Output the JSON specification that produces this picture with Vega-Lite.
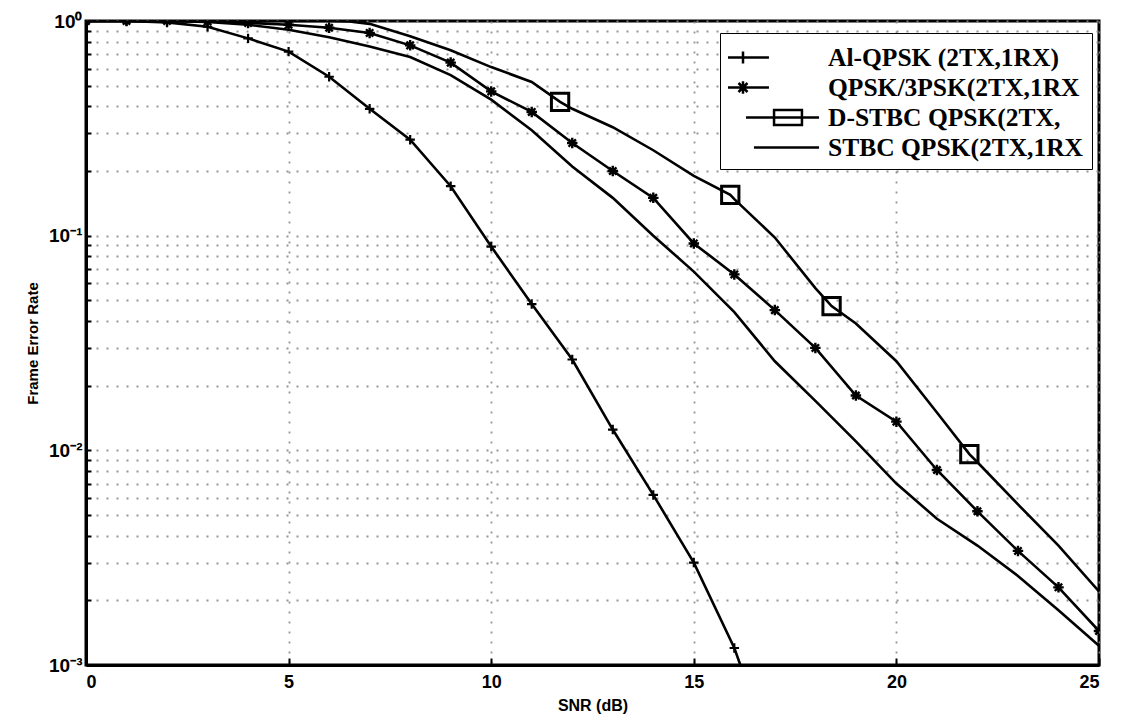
{
  "$schema": "https://vega.github.io/schema/vega-lite/v6.json",
  "width": 1013,
  "height": 644,
  "autosize": {"type": "none"},
  "padding": {"left": 86, "top": 21, "right": 23, "bottom": 54},
  "background": "white",
  "config": {
    "view": {"stroke": "black", "strokeWidth": 3},
    "axis": {
      "domainColor": "black", "domainWidth": 3,
      "tickColor": "black", "tickWidth": 2,
      "labelFont": "Liberation Sans", "labelFontWeight": "bold", "labelFontSize": 18, "labelColor": "black",
      "titleFont": "Liberation Sans", "titleFontWeight": "bold", "titleFontSize": 16, "titleColor": "black",
      "gridColor": "#8a8a8a", "gridDash": [2, 8], "gridWidth": 1.8, "gridOpacity": 0.9
    }
  },
  "datasets": {
    "curves": [
      {"series": "Al-QPSK (2TX,1RX)", "snr": 0, "fer": 1},
      {"series": "Al-QPSK (2TX,1RX)", "snr": 1, "fer": 1},
      {"series": "Al-QPSK (2TX,1RX)", "snr": 2, "fer": 0.985},
      {"series": "Al-QPSK (2TX,1RX)", "snr": 3, "fer": 0.94},
      {"series": "Al-QPSK (2TX,1RX)", "snr": 4, "fer": 0.83},
      {"series": "Al-QPSK (2TX,1RX)", "snr": 5, "fer": 0.72},
      {"series": "Al-QPSK (2TX,1RX)", "snr": 6, "fer": 0.55},
      {"series": "Al-QPSK (2TX,1RX)", "snr": 7, "fer": 0.39},
      {"series": "Al-QPSK (2TX,1RX)", "snr": 8, "fer": 0.28},
      {"series": "Al-QPSK (2TX,1RX)", "snr": 9, "fer": 0.17},
      {"series": "Al-QPSK (2TX,1RX)", "snr": 10, "fer": 0.089},
      {"series": "Al-QPSK (2TX,1RX)", "snr": 11, "fer": 0.048},
      {"series": "Al-QPSK (2TX,1RX)", "snr": 12, "fer": 0.0265},
      {"series": "Al-QPSK (2TX,1RX)", "snr": 13, "fer": 0.0125},
      {"series": "Al-QPSK (2TX,1RX)", "snr": 14, "fer": 0.0062},
      {"series": "Al-QPSK (2TX,1RX)", "snr": 15, "fer": 0.003},
      {"series": "Al-QPSK (2TX,1RX)", "snr": 16, "fer": 0.0012},
      {"series": "Al-QPSK (2TX,1RX)", "snr": 16.5, "fer": 0.00065},
      {"series": "QPSK/3PSK(2TX,1RX", "snr": 0, "fer": 1},
      {"series": "QPSK/3PSK(2TX,1RX", "snr": 1, "fer": 1},
      {"series": "QPSK/3PSK(2TX,1RX", "snr": 2, "fer": 1},
      {"series": "QPSK/3PSK(2TX,1RX", "snr": 3, "fer": 0.995},
      {"series": "QPSK/3PSK(2TX,1RX", "snr": 4, "fer": 0.98},
      {"series": "QPSK/3PSK(2TX,1RX", "snr": 5, "fer": 0.96},
      {"series": "QPSK/3PSK(2TX,1RX", "snr": 6, "fer": 0.93},
      {"series": "QPSK/3PSK(2TX,1RX", "snr": 7, "fer": 0.88},
      {"series": "QPSK/3PSK(2TX,1RX", "snr": 8, "fer": 0.77},
      {"series": "QPSK/3PSK(2TX,1RX", "snr": 9, "fer": 0.64},
      {"series": "QPSK/3PSK(2TX,1RX", "snr": 10, "fer": 0.47},
      {"series": "QPSK/3PSK(2TX,1RX", "snr": 11, "fer": 0.377},
      {"series": "QPSK/3PSK(2TX,1RX", "snr": 12, "fer": 0.27},
      {"series": "QPSK/3PSK(2TX,1RX", "snr": 13, "fer": 0.2},
      {"series": "QPSK/3PSK(2TX,1RX", "snr": 14, "fer": 0.15},
      {"series": "QPSK/3PSK(2TX,1RX", "snr": 15, "fer": 0.092},
      {"series": "QPSK/3PSK(2TX,1RX", "snr": 16, "fer": 0.066},
      {"series": "QPSK/3PSK(2TX,1RX", "snr": 17, "fer": 0.045},
      {"series": "QPSK/3PSK(2TX,1RX", "snr": 18, "fer": 0.03},
      {"series": "QPSK/3PSK(2TX,1RX", "snr": 19, "fer": 0.018},
      {"series": "QPSK/3PSK(2TX,1RX", "snr": 20, "fer": 0.0136},
      {"series": "QPSK/3PSK(2TX,1RX", "snr": 21, "fer": 0.0081},
      {"series": "QPSK/3PSK(2TX,1RX", "snr": 22, "fer": 0.0052},
      {"series": "QPSK/3PSK(2TX,1RX", "snr": 23, "fer": 0.0034},
      {"series": "QPSK/3PSK(2TX,1RX", "snr": 24, "fer": 0.0023},
      {"series": "QPSK/3PSK(2TX,1RX", "snr": 25, "fer": 0.00144},
      {"series": "D-STBC QPSK(2TX,", "snr": 0, "fer": 1},
      {"series": "D-STBC QPSK(2TX,", "snr": 6, "fer": 1},
      {"series": "D-STBC QPSK(2TX,", "snr": 6.5, "fer": 0.995},
      {"series": "D-STBC QPSK(2TX,", "snr": 7, "fer": 0.97},
      {"series": "D-STBC QPSK(2TX,", "snr": 8, "fer": 0.85},
      {"series": "D-STBC QPSK(2TX,", "snr": 9, "fer": 0.73},
      {"series": "D-STBC QPSK(2TX,", "snr": 10, "fer": 0.61},
      {"series": "D-STBC QPSK(2TX,", "snr": 11, "fer": 0.52},
      {"series": "D-STBC QPSK(2TX,", "snr": 11.7, "fer": 0.42},
      {"series": "D-STBC QPSK(2TX,", "snr": 12, "fer": 0.39},
      {"series": "D-STBC QPSK(2TX,", "snr": 13, "fer": 0.32},
      {"series": "D-STBC QPSK(2TX,", "snr": 14, "fer": 0.25},
      {"series": "D-STBC QPSK(2TX,", "snr": 15, "fer": 0.19},
      {"series": "D-STBC QPSK(2TX,", "snr": 15.9, "fer": 0.155},
      {"series": "D-STBC QPSK(2TX,", "snr": 16, "fer": 0.148},
      {"series": "D-STBC QPSK(2TX,", "snr": 17, "fer": 0.098},
      {"series": "D-STBC QPSK(2TX,", "snr": 18, "fer": 0.057},
      {"series": "D-STBC QPSK(2TX,", "snr": 18.4, "fer": 0.047},
      {"series": "D-STBC QPSK(2TX,", "snr": 19, "fer": 0.039},
      {"series": "D-STBC QPSK(2TX,", "snr": 20, "fer": 0.026},
      {"series": "D-STBC QPSK(2TX,", "snr": 21, "fer": 0.015},
      {"series": "D-STBC QPSK(2TX,", "snr": 21.8, "fer": 0.0096},
      {"series": "D-STBC QPSK(2TX,", "snr": 22, "fer": 0.0088},
      {"series": "D-STBC QPSK(2TX,", "snr": 23, "fer": 0.0056},
      {"series": "D-STBC QPSK(2TX,", "snr": 24, "fer": 0.0036},
      {"series": "D-STBC QPSK(2TX,", "snr": 25, "fer": 0.0022},
      {"series": "STBC QPSK(2TX,1RX", "snr": 0, "fer": 1},
      {"series": "STBC QPSK(2TX,1RX", "snr": 2, "fer": 1},
      {"series": "STBC QPSK(2TX,1RX", "snr": 3, "fer": 0.99},
      {"series": "STBC QPSK(2TX,1RX", "snr": 4, "fer": 0.96},
      {"series": "STBC QPSK(2TX,1RX", "snr": 5, "fer": 0.91},
      {"series": "STBC QPSK(2TX,1RX", "snr": 6, "fer": 0.84},
      {"series": "STBC QPSK(2TX,1RX", "snr": 7, "fer": 0.76},
      {"series": "STBC QPSK(2TX,1RX", "snr": 8, "fer": 0.68},
      {"series": "STBC QPSK(2TX,1RX", "snr": 9, "fer": 0.56},
      {"series": "STBC QPSK(2TX,1RX", "snr": 10, "fer": 0.43},
      {"series": "STBC QPSK(2TX,1RX", "snr": 11, "fer": 0.31},
      {"series": "STBC QPSK(2TX,1RX", "snr": 12, "fer": 0.21},
      {"series": "STBC QPSK(2TX,1RX", "snr": 13, "fer": 0.15},
      {"series": "STBC QPSK(2TX,1RX", "snr": 14, "fer": 0.1},
      {"series": "STBC QPSK(2TX,1RX", "snr": 15, "fer": 0.068},
      {"series": "STBC QPSK(2TX,1RX", "snr": 16, "fer": 0.044},
      {"series": "STBC QPSK(2TX,1RX", "snr": 17, "fer": 0.026},
      {"series": "STBC QPSK(2TX,1RX", "snr": 18, "fer": 0.017},
      {"series": "STBC QPSK(2TX,1RX", "snr": 19, "fer": 0.011},
      {"series": "STBC QPSK(2TX,1RX", "snr": 20, "fer": 0.007},
      {"series": "STBC QPSK(2TX,1RX", "snr": 21, "fer": 0.0048},
      {"series": "STBC QPSK(2TX,1RX", "snr": 22, "fer": 0.0036},
      {"series": "STBC QPSK(2TX,1RX", "snr": 23, "fer": 0.0026},
      {"series": "STBC QPSK(2TX,1RX", "snr": 24, "fer": 0.0018},
      {"series": "STBC QPSK(2TX,1RX", "snr": 25, "fer": 0.00123}
    ],
    "squares": [
      {"series": "D-STBC QPSK(2TX,", "snr": 11.7, "fer": 0.42},
      {"series": "D-STBC QPSK(2TX,", "snr": 15.9, "fer": 0.155},
      {"series": "D-STBC QPSK(2TX,", "snr": 18.4, "fer": 0.047},
      {"series": "D-STBC QPSK(2TX,", "snr": 21.8, "fer": 0.0096}
    ]
  },
  "encoding": {
    "x": {
      "field": "snr", "type": "quantitative",
      "scale": {"domain": [0, 25], "nice": false, "zero": false},
      "axis": {"values": [0, 5, 10, 15, 20, 25], "title": "SNR (dB)", "grid": true, "tickSize": -7, "labelPadding": 15, "titlePadding": 6}
    },
    "y": {
      "field": "fer", "type": "quantitative",
      "scale": {"type": "log", "domain": [0.001, 1], "nice": false},
      "axis": {
        "values": [0.001, 0.002, 0.003, 0.004, 0.005, 0.006, 0.007, 0.008, 0.009, 0.01, 0.02, 0.03, 0.04, 0.05, 0.06, 0.07, 0.08, 0.09, 0.1, 0.2, 0.3, 0.4, 0.5, 0.6, 0.7, 0.8, 0.9, 1],
        "labelExpr": "datum.value == 1 ? '10⁰' : datum.value == 0.1 ? '10⁻¹' : datum.value == 0.01 ? '10⁻²' : datum.value == 0.001 ? '10⁻³' : ''",
        "labelFontSize": 19,
        "title": "Frame Error Rate", "titleFontSize": 15, "grid": true, "tickSize": -5, "labelPadding": 9, "titlePadding": 8
      }
    }
  },
  "layer": [
    {
      "data": {"name": "curves"},
      "mark": {"type": "line", "color": "black", "strokeWidth": 2.6, "clip": true},
      "encoding": {"detail": {"field": "series", "type": "nominal"}}
    },
    {
      "data": {"name": "curves"},
      "transform": [{"filter": "datum.series == 'Al-QPSK (2TX,1RX)'"}],
      "mark": {"type": "point", "shape": "M-1,0H1M0,-1V1", "size": 90, "filled": false, "color": "black", "strokeWidth": 2.2, "opacity": 1, "clip": true}
    },
    {
      "data": {"name": "curves"},
      "transform": [{"filter": "datum.series == 'QPSK/3PSK(2TX,1RX'"}],
      "mark": {"type": "point", "shape": "M-1,0H1M0,-1V1M-0.7,-0.7L0.7,0.7M-0.7,0.7L0.7,-0.7", "size": 110, "filled": false, "color": "black", "strokeWidth": 2.4, "opacity": 1, "clip": true}
    },
    {
      "data": {"name": "squares"},
      "mark": {"type": "point", "shape": "square", "size": 300, "filled": false, "color": "black", "strokeWidth": 3, "opacity": 1, "clip": true}
    },
    {
      "data": {"name": "curves"},
      "mark": {"type": "point", "opacity": 0, "filled": false, "color": "black", "clip": true},
      "encoding": {
        "shape": {
          "field": "series", "type": "nominal",
          "scale": {
            "domain": ["Al-QPSK (2TX,1RX)", "QPSK/3PSK(2TX,1RX", "D-STBC QPSK(2TX,", "STBC QPSK(2TX,1RX"],
            "range": [
              "M-1.1,0H1.63M-0.1,-0.4V0.4",
              "M-1.1,0H1.63M-0.1,-0.42V0.42M-0.4,-0.3L0.2,0.3M-0.4,0.3L0.2,-0.3",
              "M0.1,0H4.97M1.97,-0.5H3.83V0.5H1.97Z",
              "M0.63,0H4.97"
            ]
          },
          "legend": {
            "title": null, "orient": "none", "legendX": 634, "legendY": 12,
            "strokeColor": "black", "fillColor": "white", "cornerRadius": 0,
            "padding": 8, "rowPadding": 0,
            "symbolSize": 900, "symbolStrokeWidth": 2.5, "symbolStrokeColor": "black", "symbolFillColor": "transparent", "symbolOpacity": 1,
            "labelFont": "Liberation Serif", "labelFontWeight": "bold", "labelFontSize": 25.5, "labelColor": "black", "labelLimit": 0, "labelOffset": 67
          }
        }
      }
    }
  ]
}
